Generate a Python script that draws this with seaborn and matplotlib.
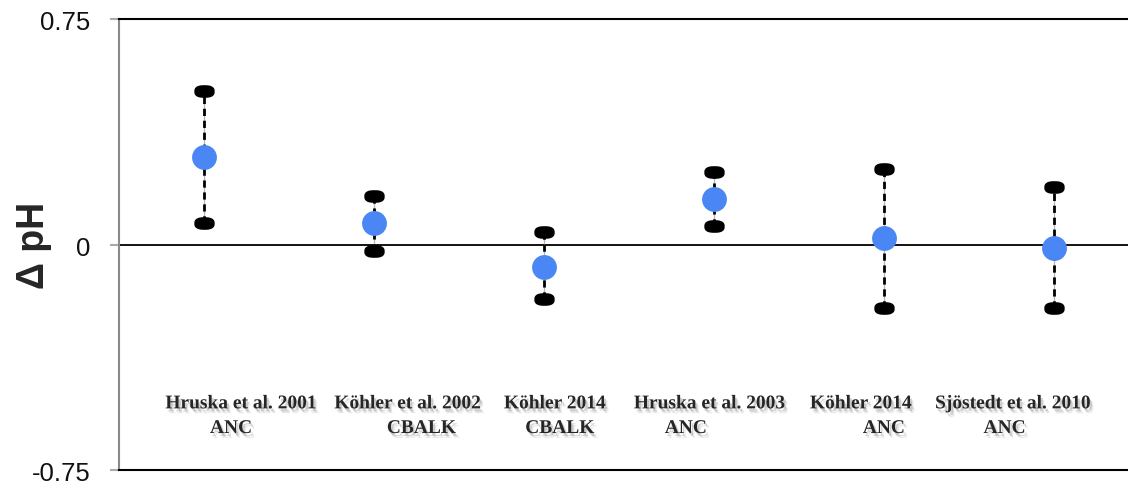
import matplotlib
matplotlib.use("Agg")
import numpy as np
import pandas as pd
import matplotlib.pyplot as plt
import matplotlib.patheffects as pe
from matplotlib.path import Path
from matplotlib.transforms import ScaledTranslation
import seaborn as sns

# Change in pH per study and method: central estimate and range
studies = ["Hruska et al. 2001", "Köhler et al. 2002", "Köhler 2014",
           "Hruska et al. 2003", "Köhler 2014", "Sjöstedt et al. 2010"]
methods = ["ANC", "CBALK", "CBALK", "ANC", "ANC", "ANC"]
delta_ph = [0.29, 0.07, -0.075, 0.15, 0.02, -0.01]
upper = [0.51, 0.16, 0.04, 0.24, 0.25, 0.19]
lower = [0.07, -0.02, -0.18, 0.06, -0.21, -0.21]
y_ticks = [-0.75, 0, 0.75]
y_tick_labels = ["-0.75", "0", "0.75"]

# horizontal placement of the two caption lines, relative to each category
study_offsets = [0.22, 0.20, 0.065, -0.024, -0.135, -0.24]
method_offsets = [0.16, 0.28, 0.094, -0.165, 0.0, -0.29]

df = pd.DataFrame({"pos": np.arange(len(studies)), "study": studies,
                   "method": methods, "mean": delta_ph,
                   "upper": upper, "lower": lower})

sns.set_style("white")
plt.rcParams["font.family"] = ["Liberation Sans", "DejaVu Sans"]

fig = plt.figure(figsize=(11.28, 4.85), dpi=100)
ax = fig.add_axes([119 / 1128, 14 / 485, 1020 / 1128, 451 / 485])

# rounded oval cap marker
t = np.linspace(0, 2 * np.pi, 60)
r = (np.abs(np.cos(t)) ** 2.6 + np.abs(np.sin(t)) ** 2.6) ** (-1 / 2.6)
verts = np.column_stack([r * np.cos(t), 0.62 * r * np.sin(t)])
cap = Path(verts, closed=True)

ax.axhline(0, color="black", lw=1.3, zorder=1)

# range whiskers: faint guide under a dashed black line
ax.vlines(df["pos"], df["lower"], df["upper"], color="#b5b5b5", lw=0.9, zorder=2)
ax.vlines(df["pos"], df["lower"], df["upper"], color="black", lw=2.0,
          linestyles=(0, (2.6, 1.7)), zorder=3)

for col in ["upper", "lower"]:
    sns.scatterplot(data=df, x="pos", y=col, marker=cap, s=215,
                    color="black", linewidth=0, ax=ax, zorder=4, legend=False)

sns.scatterplot(data=df, x="pos", y="mean", marker="o", s=320,
                color="#4a86f4", linewidth=0, ax=ax, zorder=5, legend=False)

shadow = [pe.SimplePatchShadow(offset=(2.5, -3.5), shadow_rgbFace="#888888", alpha=0.18),
          pe.SimplePatchShadow(offset=(1.5, -2.2), shadow_rgbFace="#777777", alpha=0.3),
          pe.Normal()]
for i, row in df.iterrows():
    ax.text(row["pos"] + study_offsets[i], -0.53, row["study"], ha="center",
            va="center", fontsize=14, fontweight="bold",
            family=["Liberation Serif"], path_effects=shadow, zorder=6)
    ax.text(row["pos"] + method_offsets[i], -0.612, row["method"], ha="center",
            va="center", fontsize=14, fontweight="bold",
            family=["Liberation Serif"], path_effects=shadow, zorder=6)

ax.set_xlim(-0.5, 5.5)
ax.set_ylim(-0.75, 0.75)
ax.set_xticks([])
ax.set_xlabel("")
ax.set_yticks(y_ticks)
ax.set_yticklabels(y_tick_labels)
ax.tick_params(axis="y", left=True, length=6.5, width=1.5, color="#aaaaaa",
               pad=14, labelsize=18.5, labelcolor="#111111")
shift = ScaledTranslation(0, -1 / 100, fig.dpi_scale_trans)
for lab in ax.get_yticklabels():
    lab.set_transform(lab.get_transform() + shift)

ax.set_ylabel("Δ pH", fontsize=27, fontweight="bold")
ax.yaxis.set_label_coords(-0.066, 0.5)

for side in ["top", "bottom"]:
    ax.spines[side].set_color("black")
    ax.spines[side].set_linewidth(1.5)
ax.spines["left"].set_color("#8a8a8a")
ax.spines["left"].set_linewidth(1.5)
ax.spines["right"].set_visible(False)

fig.savefig("out.png", dpi=100)
